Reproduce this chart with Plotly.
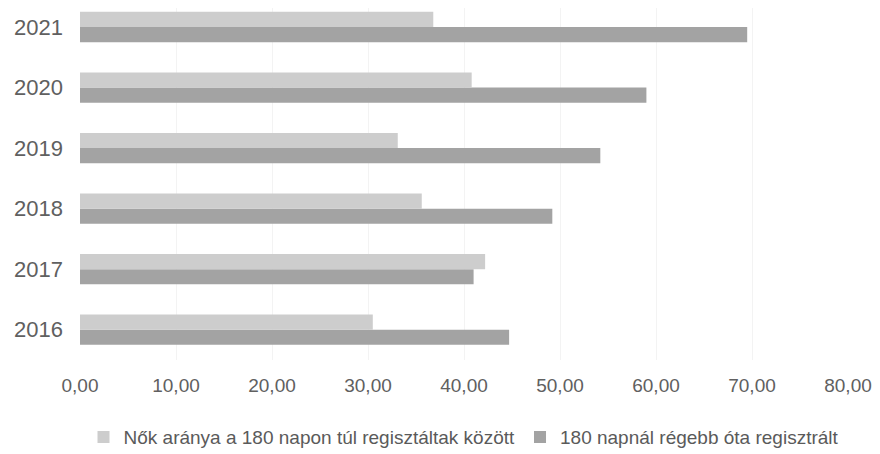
import plotly.graph_objects as go

years = ["2016", "2017", "2018", "2019", "2020", "2021"]
nok_aranya = [30.5, 42.2, 35.6, 33.1, 40.8, 36.8]
regisztralt_180 = [44.7, 41.0, 49.2, 54.2, 59.0, 69.5]
x_ticks = [0, 10, 20, 30, 40, 50, 60, 70, 80]

name_light = "Nők aránya a 180 napon túl regisztáltak között"
name_dark = "180 napnál régebb óta regisztrált"

fig = go.Figure()
fig.add_trace(go.Bar(
    y=years, x=regisztralt_180, orientation="h", name=name_dark,
    marker=dict(color="#a3a3a3", line=dict(width=0)), legendrank=2,
))
fig.add_trace(go.Bar(
    y=years, x=nok_aranya, orientation="h", name=name_light,
    marker=dict(color="#cdcdcd", line=dict(width=0)), legendrank=1,
))

fig.update_layout(
    width=872, height=446,
    margin=dict(l=72, r=32, t=0, b=94, autoexpand=False),
    paper_bgcolor="white", plot_bgcolor="white",
    barmode="group", bargap=0.5, bargroupgap=0,
    separators=", ",
    font=dict(family="Liberation Sans", color="#5a5a5a", size=17),
    showlegend=True,
    legend=dict(orientation="h", x=0.5, xanchor="center", y=-0.219, yanchor="middle",
                font=dict(size=19, color="#5a5a5a"), itemwidth=30),
    xaxis=dict(range=[0, 80], tickvals=x_ticks, tickformat=".2f", automargin=False,
               showgrid=True, gridcolor="#f3f3f3", zeroline=False,
               showline=False, ticks="", ticklabelstandoff=12,
               tickfont=dict(size=19, color="#606060")),
    yaxis=dict(type="category", categoryorder="array", categoryarray=years, automargin=False,
               range=[-0.5, 5.314], showgrid=False, showline=False, ticks="",
               ticklabelstandoff=16, tickfont=dict(size=22, color="#606060")),
)

fig.write_html("out.html")
